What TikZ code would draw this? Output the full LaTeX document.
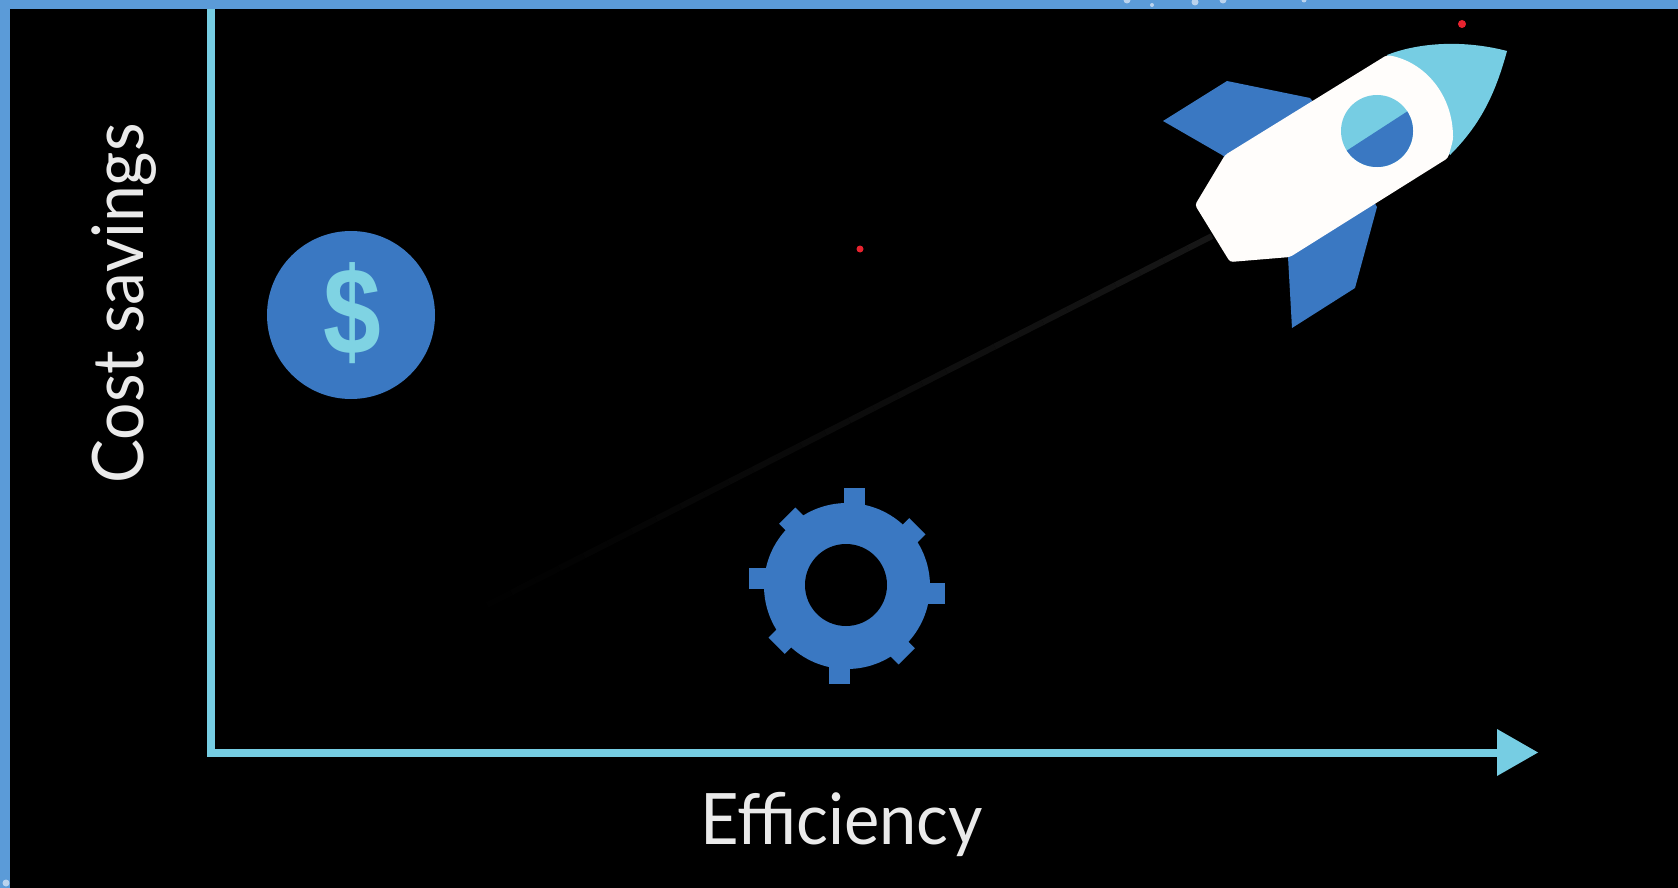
\documentclass[tikz,border=0pt]{standalone}
\usepackage{graphicx}
\usepackage{fontspec}
\setmainfont{Lato}
\newfontfamily\dollarfont{Liberation Sans}
\definecolor{framec}{HTML}{5B9BD8}
\definecolor{cyanc}{HTML}{76CDE3}
\definecolor{dollarc}{HTML}{7FD3E3}
\definecolor{bluec}{HTML}{3A78C2}
\definecolor{whitec}{HTML}{FFFDFB}
\definecolor{textc}{HTML}{EAEAEA}
\definecolor{redc}{HTML}{E8232F}
\definecolor{speck}{HTML}{BAD3EE}
\definecolor{trailc}{HTML}{161616}
\tikzset{
  labeltext/.style={text=textc,inner sep=0pt,anchor=base,font=\fontsize{71}{71}\selectfont},
  axisline/.style={draw=cyanc,line width=8pt,line join=miter},
  speckdot/.style={fill=speck},
  tooth/.style={fill=bluec}
}
\begin{document}
\begin{tikzpicture}[x=1pt,y=-1pt]
\useasboundingbox (0,0) rectangle (1678,888);
% frame and background
\fill[framec] (0,0) rectangle (1678,888);
\fill[black] (10,9) rectangle (1678,888);
\foreach \x/\y/\r in {1127/0/3.5,1152/5/2,1195/2/3.5,1223/0/3.5,1304/0/2.5,6/883/3.5}
  \fill[speckdot] (\x,\y) circle (\r pt);
% trail
\foreach \i in {0,...,29}{
  \pgfmathsetmacro{\pa}{\i/30}
  \pgfmathsetmacro{\pb}{(\i+1)/30}
  \pgfmathsetmacro{\mixv}{100*(1-\pa)}
  \draw[trailc!\mixv!black,line width=6pt]
    ({1212+(487-1212)*\pa},{236+(605-236)*\pa}) -- ({1212+(487-1212)*\pb},{236+(605-236)*\pb});
}
% axes
\draw[axisline] (211,9) -- (211,753) -- (1500,753);
\fill[cyanc] (1497,729) -- (1538,752.5) -- (1497,776) -- cycle;
% labels
\node[labeltext,rotate=90] (ylabel) at (143,303.5) {\scalebox{.93}[1]{Cost savings}};
\node[labeltext] (xlabel) at (841.5,844) {\scalebox{.94}[1]{Efficiency}};
% dollar
\fill[bluec] (351,315) circle (84pt);
\node[inner sep=0pt,text=dollarc,xscale=0.88,yscale=1.05,font=\dollarfont\bfseries\fontsize{118}{118}\selectfont] (dollar) at (352,313) {\$};
% gear
\foreach \a in {0,90,180,270}
  \fill[tooth,rotate around={\a:(847,586)}] (900,583) rectangle (945,604);
\foreach \a in {45,135,225,315}
  \fill[tooth,rotate around={\a:(847,586)}] (900,582) rectangle (939,605);
\fill[bluec] (847,586) circle (83pt);
\fill[black] (846,585) circle (41pt);
% rocket
\fill[bluec] (1163,121) -- (1227,81) -- (1310,98) -- (1320,110) -- (1235,165) -- (1222,155) -- cycle;
\fill[bluec] (1377,207) -- (1355,288) -- (1292,328) -- (1288,257) -- (1300,240) -- (1370,195) -- cycle;
\fill[cyanc] (1387,55) .. controls (1420,42) and (1465,40) .. (1507,51)
  .. controls (1495,95) and (1480,125) .. (1450,155) -- cycle;
\fill[whitec,rounded corners=3pt] (1387,55) .. controls (1425,62) and (1453,95) .. (1453,140)
  -- (1448,158) -- (1290,257) -- (1230,262) -- (1195,205) -- (1225,155) -- cycle;
\fill[cyanc] (1377,131) circle (36pt);
\begin{scope}
  \clip (1377,131) circle (36pt);
  \fill[bluec] (1340,155) -- (1411,109) -- (1430,180) -- (1340,180) -- cycle;
\end{scope}
% red dots
\fill[redc] (1462,24) circle (4pt);
\fill[redc] (860,249) circle (3.5pt);
\end{tikzpicture}
\end{document}
